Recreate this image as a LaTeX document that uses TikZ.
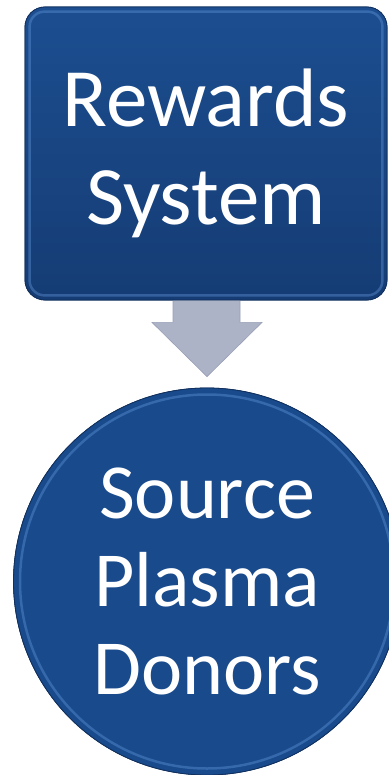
\documentclass[tikz,border=0pt]{standalone}
\usepackage{fontspec}
\setmainfont{Carlito}
\usetikzlibrary{calc}
\definecolor{boxtop}{HTML}{1C4E90}
\definecolor{boxbot}{HTML}{153C74}
\definecolor{rimlight}{HTML}{5A8FD2}
\definecolor{circfill}{HTML}{184A8C}
\definecolor{arrowfill}{HTML}{ACB3C7}
\definecolor{arrowline}{HTML}{98A0B6}
\tikzset{
  rewardbox/.style={rectangle, rounded corners=20pt, minimum width=362pt, minimum height=293pt,
    inner sep=0pt, top color=boxtop, bottom color=boxbot, draw=boxbot!80!black, line width=0.8pt,
    text=white, align=center, font=\fontsize{83}{98}\selectfont},
  donorcircle/.style={circle, minimum size=387pt, inner sep=0pt, fill=circfill,
    draw=boxbot!80!black, line width=0.8pt,
    text=white, align=center, font=\fontsize{78}{88}\selectfont},
  blockarrow/.style={fill=arrowfill, draw=arrowline, line width=0.6pt, line join=miter},
  rimline/.style={draw=rimlight, line width=2.5pt, opacity=0.45}
}
\begin{document}
\begin{tikzpicture}[x=1pt,y=-1pt]
\useasboundingbox (0,0) rectangle (388,775);
\fill[white] (0,0) rectangle (388,775);
\node[donorcircle] (circ) at (207,581.5) {};
\node[rewardbox] (box) at (206,153.5) {};
\coordinate (tip) at ($(circ.north)+(0,-11)$);
% connector block arrow
\path[blockarrow] ($(box.south)+(-33,-2)$) -- ($(box.south)+(-33,22)$) -- ($(box.south)+(-54,22)$)
  -- (tip) -- ($(box.south)+(56,22)$) -- ($(box.south)+(34,22)$) -- ($(box.south)+(34,-2)$) -- cycle;
% box above arrow
\node[rewardbox] (box) at (206,153.5) {Rewards\\System};
\draw[rimline, rounded corners=15pt] ($(box.north west)+(5,5)$) rectangle ($(box.south east)+(-5,-5)$);
% circle
\node[donorcircle] (circ) at (207,581.5) {Source\\Plasma\\Donors};
\draw[rimline] (circ.center) circle (187);
\end{tikzpicture}
\end{document}
